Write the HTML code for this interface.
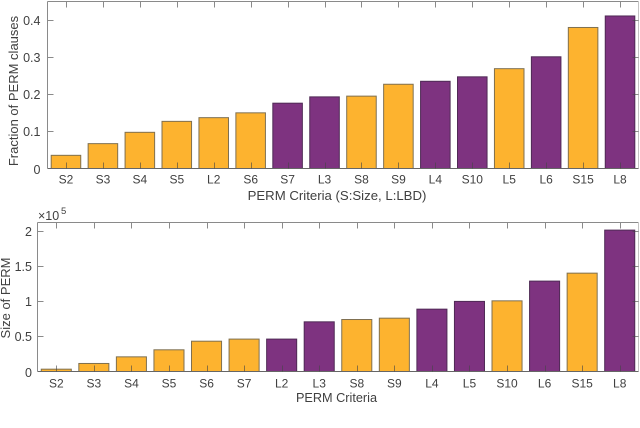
<!DOCTYPE html>
<html>
<head>
<meta charset="utf-8">
<style>
html,body{margin:0;padding:0;background:#fff;width:640px;height:428px;overflow:hidden}
svg{display:block}
text{font-family:"Liberation Sans",sans-serif;fill:#404040}
</style>
</head>
<body>
<svg id="chart" width="640" height="428" viewBox="0 0 640 428" xmlns="http://www.w3.org/2000/svg"></svg>
<script>
const topCategories = ['S2','S3','S4','S5','L2','S6','S7','L3','S8','S9','L4','S10','L5','L6','S15','L8'];
const topValues = [0.0355,0.067,0.0975,0.127,0.137,0.15,0.176,0.193,0.195,0.227,0.235,0.247,0.269,0.301,0.38,0.411];
const topTicks = [0,0.1,0.2,0.3,0.4];
const topTickLabels = ['0','0.1','0.2','0.3','0.4'];
const bottomCategories = ['S2','S3','S4','S5','S6','S7','L2','L3','S8','S9','L4','L5','S10','L6','S15','L8'];
const bottomValues = [0.033,0.114,0.208,0.308,0.43,0.46,0.46,0.705,0.738,0.757,0.885,0.995,1.003,1.283,1.396,2.007];
const bottomTicks = [0,0.5,1,1.5,2];
const bottomTickLabels = ['0','0.5','1','1.5','2'];
const purpleCriteria = {
  top: ['S7','L3','L4','S10','L6','L8'],
  bottom: ['L2','L3','L4','L5','L6','L8']
};

const svg = document.getElementById('chart');
const NS = 'http://www.w3.org/2000/svg';
function mk(tag, attrs, txt) {
  const el = document.createElementNS(NS, tag);
  for (const k in attrs) el.setAttribute(k, attrs[k]);
  if (txt !== undefined) el.textContent = txt;
  return el;
}

function drawPanel(o) {
  const g = mk('g', {});
  
  
  svg.appendChild(g);
  const n = o.categories.length;
  const step = (o.right - o.left) / n;
  const xPos = i => o.left + step * (i + 0.5);
  const yPos = v => o.bottom - (v - 0) / o.yMax * (o.bottom - o.top);
  const barW = step * 0.8;

  const bg = mk('rect', {x:o.left, y:o.top, width:o.right-o.left, height:o.bottom-o.top, fill:'#fff'});
  
  
  g.appendChild(bg);

  o.categories.forEach((c, i) => {
    const purple = o.purple.indexOf(c) >= 0;
    const y = yPos(o.values[i]);
    const r = mk('rect', {
      x: xPos(i) - barW / 2, y: y, width: barW, height: o.bottom - y,
      fill: purple ? '#7e3380' : '#fdb32f',
      stroke: purple ? '#4f2a55' : '#7f7050', 'stroke-width': 1
    });
    
    
    g.appendChild(r);
  });

  const axisColor = '#8a8a8a';
  const tickColor = 'rgba(70,70,70,0.62)';

  const frame = [
    ['top-border', o.left, o.top, o.right, o.top, axisColor],
    ['right-border', o.right, o.top, o.right, o.bottom, '#c4c4c4'],
    ['x-axis-line', o.left, o.bottom, o.right, o.bottom, '#666'],
    ['y-axis-line', o.left, o.top, o.left, o.bottom, axisColor]
  ];
  frame.forEach(f => {
    const l = mk('line', {x1:f[1], y1:f[2], x2:f[3], y2:f[4], stroke:f[5], 'stroke-width':1});
    
    
    g.appendChild(l);
  });

  o.categories.forEach((c, i) => {
    const x = Math.round(xPos(i)) + 0.5;
    const t1 = mk('line', {x1:x, y1:o.bottom, x2:x, y2:o.bottom - 6, stroke:tickColor, 'stroke-width':1});
    
    
    g.appendChild(t1);
    const t2 = mk('line', {x1:x, y1:o.top, x2:x, y2:o.top + 6, stroke:axisColor, 'stroke-width':1});
    
    
    g.appendChild(t2);
    const lab = mk('text', {x:xPos(i), y:o.bottom + o.xLabelGap, 'font-size':12, 'text-anchor':'middle'}, c);
    
    
    g.appendChild(lab);
  });

  o.ticks.forEach((v, i) => {
    const y = Math.round(yPos(v)) + 0.5;
    if (v > 0) {
      const t1 = mk('line', {x1:o.left, y1:y, x2:o.left + 6, y2:y, stroke:axisColor, 'stroke-width':1});
      
      
      g.appendChild(t1);
      const t2 = mk('line', {x1:o.right, y1:y, x2:o.right - 6, y2:y, stroke:tickColor, 'stroke-width':1});
      
      
      g.appendChild(t2);
    }
    const lab = mk('text', {x:o.left - o.yLabelGap, y:y + 4.5, 'font-size':12.5, 'text-anchor':'end'}, o.tickLabels[i]);
    
    
    g.appendChild(lab);
  });

  const xt = mk('text', {x:o.xTitleX, y:o.xTitleY, 'font-size':o.xTitleSize, 'text-anchor':'middle'}, o.xTitle);
  
  
  g.appendChild(xt);

  const yt = mk('text', {x:0, y:0, 'font-size':o.yTitleSize, 'text-anchor':'middle',
    transform:'translate(' + o.yTitleX + ' ' + o.yTitleY + ') rotate(-90)'}, o.yTitle);
  
  
  g.appendChild(yt);
}

drawPanel({
  name:'fraction', categories:topCategories, values:topValues, ticks:topTicks, tickLabels:topTickLabels,
  purple:purpleCriteria.top, left:47.5, right:638.5, top:1.5, bottom:168.5, yMax:0.45,
  xLabelGap:15, yLabelGap:7, xTitle:'PERM Criteria (S:Size, L:LBD)', xTitleX:337, xTitleY:200, xTitleSize:13.2,
  yTitle:'Fraction of PERM clauses', yTitleX:18, yTitleY:91, yTitleSize:13
});
drawPanel({
  name:'size', categories:bottomCategories, values:bottomValues, ticks:bottomTicks, tickLabels:bottomTickLabels,
  purple:purpleCriteria.bottom, left:37.5, right:638.5, top:222.5, bottom:371.5, yMax:2.115,
  xLabelGap:16, yLabelGap:5.5, xTitle:'PERM Criteria', xTitleX:336.5, xTitleY:402, xTitleSize:12.7,
  yTitle:'Size of PERM', yTitleX:10, yTitleY:298, yTitleSize:13
});

const mult = mk('text', {x:38, y:220, 'font-size':12.5}, '×10');


svg.appendChild(mult);
const exp = mk('text', {x:61, y:214, 'font-size':9.5}, '5');


svg.appendChild(exp);
</script>
</body>
</html>
